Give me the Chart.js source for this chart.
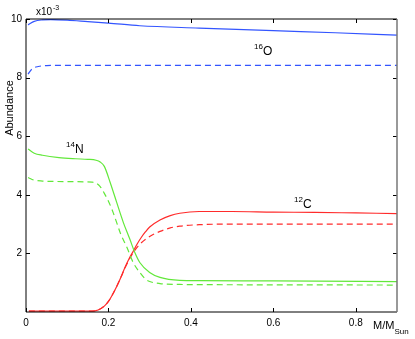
<!DOCTYPE html>
<html>
<head>
<meta charset="utf-8">
<script src="https://cdn.jsdelivr.net/npm/chart.js@4"></script>
<style>
  html, body { margin: 0; padding: 0; background: #fff; }
  #wrap { width: 415px; height: 339px; }
</style>
</head>
<body>
<div id="wrap"><canvas id="myChart" width="415" height="339"></canvas></div>
<script>
// abundances in units of 1e-3, mass coordinate M/Msun

const massOSolid = [0.005, 0.02, 0.04, 0.06, 0.1, 0.15, 0.2, 0.276, 0.42, 0.6, 0.75, 0.9];
const oxySolid = [9.80, 9.92, 9.97, 9.98, 9.96, 9.91, 9.86, 9.77, 9.69, 9.60, 9.53, 9.45];

const massODashed = [0.005, 0.015, 0.03, 0.05, 0.1, 0.3, 0.5, 0.7, 0.9];
const oxyDashed = [8.12, 8.30, 8.38, 8.41, 8.42, 8.42, 8.42, 8.42, 8.42];

const massNSolid = [0.005, 0.02, 0.04, 0.08, 0.12, 0.15, 0.17, 0.18, 0.19, 0.204, 0.22, 0.236, 0.252, 0.264, 0.276, 0.30, 0.325, 0.373, 0.42, 0.6, 0.9];
const nitSolid = [5.56, 5.42, 5.35, 5.27, 5.23, 5.21, 5.18, 5.12, 4.97, 4.43, 3.74, 3.06, 2.48, 2.03, 1.69, 1.35, 1.18, 1.08, 1.07, 1.06, 1.04];

const massNDashed = [0.005, 0.02, 0.04, 0.1, 0.16, 0.17, 0.18, 0.19, 0.20, 0.21, 0.22, 0.23, 0.245, 0.26, 0.276, 0.29, 0.30, 0.325, 0.373, 0.5, 0.9];
const nitDashed = [4.59, 4.50, 4.47, 4.45, 4.43, 4.40, 4.28, 4.05, 3.78, 3.45, 3.05, 2.65, 2.20, 1.69, 1.35, 1.12, 1.04, 0.97, 0.94, 0.93, 0.92];

const massCSolid = [0.007, 0.1, 0.16, 0.175, 0.19, 0.2, 0.21, 0.22, 0.23, 0.24, 0.25, 0.26, 0.27, 0.28, 0.29, 0.30, 0.325, 0.35, 0.373, 0.42, 0.5, 0.6, 0.7, 0.8, 0.9];
const carbSolid = [0.03, 0.03, 0.03, 0.07, 0.20, 0.36, 0.60, 0.87, 1.18, 1.52, 1.82, 2.07, 2.33, 2.55, 2.74, 2.90, 3.14, 3.29, 3.37, 3.43, 3.43, 3.41, 3.40, 3.38, 3.36];

const massCDashed = [0.007, 0.1, 0.16, 0.175, 0.19, 0.2, 0.21, 0.22, 0.23, 0.24, 0.25, 0.26, 0.276, 0.30, 0.325, 0.35, 0.373, 0.42, 0.5, 0.7, 0.9];
const carbDashed = [0.03, 0.03, 0.03, 0.07, 0.20, 0.36, 0.60, 0.87, 1.18, 1.50, 1.78, 2.02, 2.31, 2.58, 2.75, 2.87, 2.93, 2.98, 3.00, 3.00, 3.00];

const xTicks = [0, 0.2, 0.4, 0.6, 0.8];
const yTicks = [2, 4, 6, 8, 10];

const blue = '#3355ff';
const green = '#62e83a';
const red = '#ff2b2b';

function pts(xs, ys) {
    return xs.map((x, i) => ({ x: x, y: ys[i] }));
}

function line(xs, ys, color, dashed) {
    return {
        data: pts(xs, ys),
        borderColor: color,
        borderWidth: 1.2,
        borderDash: dashed ? [6, 4] : [],
        pointRadius: 0,
        fill: false,
        cubicInterpolationMode: 'monotone'
    };
}

const font = 'Liberation Sans, Arial, sans-serif';

// frame, inward ticks and the text labels
const decor = {
    id: 'decor',
    afterDraw(chart) {
        const c = chart.ctx;
        const a = chart.chartArea;
        const xs = chart.scales.x;
        const ys = chart.scales.y;
        c.save();
        c.lineWidth = 1;
        c.strokeStyle = '#000';
        c.beginPath();
        c.moveTo(a.left, a.top);
        c.lineTo(a.right, a.top);
        c.moveTo(a.left, a.top);
        c.lineTo(a.left, a.bottom);
        c.lineTo(a.right, a.bottom);
        xTicks.forEach(v => {
            const px = Math.round(xs.getPixelForValue(v)) + 0.5;
            c.moveTo(px, a.bottom);
            c.lineTo(px, a.bottom - 4);
            c.moveTo(px, a.top);
            c.lineTo(px, a.top + 4);
        });
        yTicks.forEach(v => {
            const py = Math.round(ys.getPixelForValue(v)) + 0.5;
            c.moveTo(a.left, py);
            c.lineTo(a.left + 4, py);
            c.moveTo(a.right, py);
            c.lineTo(a.right - 4, py);
        });
        c.stroke();
        c.strokeStyle = '#777';
        c.lineWidth = 1.5;
        c.beginPath();
        c.moveTo(a.right, a.top);
        c.lineTo(a.right, a.bottom);
        c.stroke();

        c.fillStyle = '#000';
        c.textBaseline = 'alphabetic';
        c.textAlign = 'left';

        // exponent
        c.font = '10px ' + font;
        c.fillText('x10', 36, 15);
        c.font = '7px ' + font;
        c.fillText('-3', 53, 10);

        // isotope labels
        function iso(mass, el, x, y) {
            c.font = '8px ' + font;
            c.fillText(mass, x, y - 6);
            const w = c.measureText(mass).width;
            c.font = '12px ' + font;
            c.fillText(el, x + w, y);
        }
        iso('16', 'O', 254, 55);
        iso('14', 'N', 66, 153);
        iso('12', 'C', 294, 208);

        // x axis title
        c.font = '11px ' + font;
        c.fillText('M/M', 373, 329);
        const mw = c.measureText('M/M').width;
        c.font = '8px ' + font;
        c.fillText('Sun', 373 + mw, 334);

        // y axis title
        c.translate(13, 108);
        c.rotate(-Math.PI / 2);
        c.textAlign = 'center';
        c.font = '11px ' + font;
        c.fillText('Abundance', 0, 0);
        c.restore();
    }
};

const ctx = document.getElementById('myChart');

new Chart(ctx, {
    type: 'line',
    data: {
        datasets: [
            line(massOSolid, oxySolid, blue, false),
            line(massODashed, oxyDashed, blue, true),
            line(massNSolid, nitSolid, green, false),
            line(massNDashed, nitDashed, green, true),
            line(massCSolid, carbSolid, red, false),
            line(massCDashed, carbDashed, red, true)
        ]
    },
    options: {
        responsive: false,
        animation: false,
        layout: { padding: { top: 19, right: 18, left: 0, bottom: 0 } },
        plugins: { legend: { display: false }, tooltip: { enabled: false } },
        scales: {
            x: {
                type: 'linear',
                min: 0,
                max: 0.9,
                afterFit(s) { s.height = 27; },
                afterBuildTicks(s) { s.ticks = xTicks.map(v => ({ value: v })); },
                grid: { display: false, drawTicks: false },
                border: { display: false },
                ticks: {
                    padding: 5,
                    color: '#000',
                    font: { family: font, size: 10 },
                    callback: v => (v === 0 ? '0' : v.toFixed(1))
                }
            },
            y: {
                type: 'linear',
                min: 0,
                max: 10,
                afterFit(s) { s.width = 26; },
                afterBuildTicks(s) { s.ticks = yTicks.map(v => ({ value: v })); },
                grid: { display: false, drawTicks: false },
                border: { display: false },
                ticks: {
                    padding: 4,
                    color: '#000',
                    font: { family: font, size: 10 },
                    callback: v => String(v)
                }
            }
        }
    },
    plugins: [decor]
});
</script>
</body>
</html>
